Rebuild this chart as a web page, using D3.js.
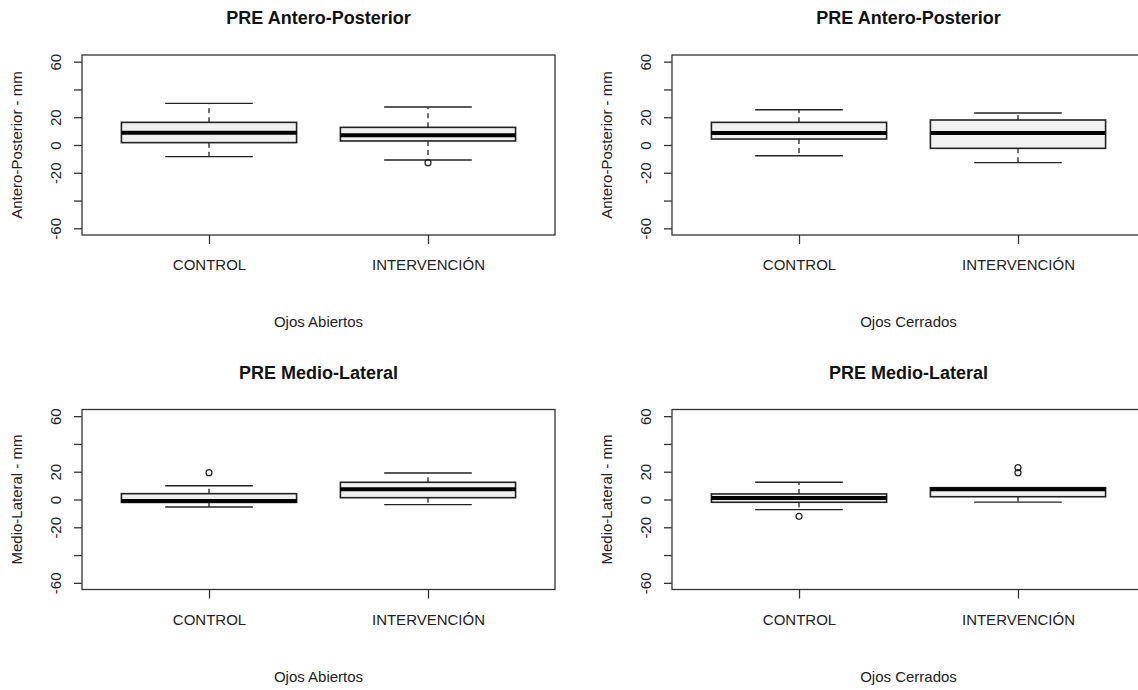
<!DOCTYPE html>
<html lang="es">
<head>
<meta charset="UTF-8" />
<title>PRE boxplots</title>
<style>
  html, body { margin: 0; padding: 0; background: #fff; }
  svg { display: block; font-family: "Liberation Sans", Arial, sans-serif; }
  .frame { fill: none; stroke: #333; stroke-width: 1.3px; }
  .axis path { stroke: #333; stroke-width: 1.3px; }
  .axis line { stroke: #333; stroke-width: 1.3px; }
  .axis text { font-size: 15px; fill: #222; }
  .box { fill: #f0f0f0; stroke: #222; stroke-width: 1.6px; }
  .median { stroke: #000; stroke-width: 4px; }
  .whisker { stroke: #222; stroke-width: 1.3px; stroke-dasharray: 5,4; }
  .cap { stroke: #222; stroke-width: 1.4px; }
  .outlier { fill: none; stroke: #222; stroke-width: 1.2px; }
  .title { font-size: 18px; font-weight: bold; fill: #111; }
  .lab { font-size: 15px; fill: #222; }
</style>
</head>
<body>
<svg width="1138" height="690"></svg>
<script src="https://d3js.org/d3.v7.min.js"></script>
<script>
// groups and axis ticks
const groups = ["CONTROL", "INTERVENCIÓN"];
const yTicks = [-60, -40, -20, 0, 20, 40, 60];
const yTickLabels = [-60, -20, 0, 20, 60];

// five-number summaries per group: [lowWhisker, q1, median, q3, highWhisker]
const apOpenStats = [[-8.4, 1.7, 8.9, 16.3, 30.0], [-10.8, 2.9, 7.0, 12.7, 27.4]];
const apOpenOut = [[], [-12.7]];
const apClosedStats = [[-7.7, 4.3, 8.6, 16.3, 25.4], [-12.7, -2.4, 8.6, 18.0, 23.0]];
const apClosedOut = [[], []];
const mlOpenStats = [[-5.4, -2.1, -1.0, 4.2, 9.9], [-3.7, 1.3, 7.3, 12.4, 19.1]];
const mlOpenOut = [[19.3], []];
const mlClosedStats = [[-7.3, -2.0, 1.1, 4.0, 12.4], [-1.9, 2.0, 7.4, 8.5, 8.5]];
const mlClosedOut = [[-12.1], [22.9, 19.3]];

const panels = [
  { title: "PRE Antero-Posterior", ylab: "Antero-Posterior - mm", xlab: "Ojos Abiertos", stats: apOpenStats, out: apOpenOut, col: 0, row: 0 },
  { title: "PRE Antero-Posterior", ylab: "Antero-Posterior - mm", xlab: "Ojos Cerrados", stats: apClosedStats, out: apClosedOut, col: 1, row: 0 },
  { title: "PRE Medio-Lateral", ylab: "Medio-Lateral - mm", xlab: "Ojos Abiertos", stats: mlOpenStats, out: mlOpenOut, col: 0, row: 1 },
  { title: "PRE Medio-Lateral", ylab: "Medio-Lateral - mm", xlab: "Ojos Cerrados", stats: mlClosedStats, out: mlClosedOut, col: 1, row: 1 }
];

const svg = d3.select("svg");
const plotW = 473, plotH = 180;
const colX = [82, 672], rowY = [55, 409.5];

panels.forEach(p => {
  const g = svg.append("g")
    .attr("transform", `translate(${colX[p.col]},${rowY[p.row]})`);

  // R style: limits padded by 4%
  const x = d3.scaleLinear().domain([0.42, 2.58]).range([0, plotW]);
  const y = d3.scaleLinear().domain([-64.8, 64.8]).range([plotH, 0]);

  g.append("rect").attr("class", "frame")
    .attr("width", plotW).attr("height", plotH);

  const yAxis = g.append("g").attr("class", "axis")
    .call(d3.axisLeft(y).tickValues(yTicks).tickSize(8).tickSizeOuter(0)
      .tickFormat(d => yTickLabels.includes(d) ? String(d) : ""));
  yAxis.select(".domain").remove();
  yAxis.selectAll("text")
    .attr("transform", "rotate(-90)")
    .attr("x", 0).attr("y", -26)
    .attr("dy", "0.35em")
    .attr("text-anchor", "middle");

  const xAxis = g.append("g").attr("class", "axis")
    .attr("transform", `translate(0,${plotH})`)
    .call(d3.axisBottom(x).tickValues([1, 2]).tickSize(9).tickSizeOuter(0)
      .tickFormat((d, i) => groups[i]));
  xAxis.select(".domain").remove();
  xAxis.selectAll("text").attr("y", 30).attr("dy", "0.35em");

  p.stats.forEach((s, i) => {
    const cx = x(i + 1);
    const bw = x(1.4) - x(1), cw = x(1.2) - x(1);
    const [lo, q1, med, q3, hi] = s;
    g.append("line").attr("class", "whisker")
      .attr("x1", cx).attr("x2", cx).attr("y1", y(q3)).attr("y2", y(hi));
    g.append("line").attr("class", "whisker")
      .attr("x1", cx).attr("x2", cx).attr("y1", y(q1)).attr("y2", y(lo));
    g.append("line").attr("class", "cap")
      .attr("x1", cx - cw).attr("x2", cx + cw).attr("y1", y(hi)).attr("y2", y(hi));
    g.append("line").attr("class", "cap")
      .attr("x1", cx - cw).attr("x2", cx + cw).attr("y1", y(lo)).attr("y2", y(lo));
    g.append("rect").attr("class", "box")
      .attr("x", cx - bw).attr("width", 2 * bw)
      .attr("y", y(q3)).attr("height", y(q1) - y(q3));
    g.append("line").attr("class", "median")
      .attr("x1", cx - bw).attr("x2", cx + bw).attr("y1", y(med)).attr("y2", y(med));
    g.selectAll(null).data(p.out[i]).join("circle")
      .attr("class", "outlier")
      .attr("cx", cx).attr("cy", d => y(d)).attr("r", 3);
  });

  g.append("text").attr("class", "title")
    .attr("x", plotW / 2).attr("y", -37).attr("dy", "0.35em")
    .attr("text-anchor", "middle").text(p.title);
  g.append("text").attr("class", "lab")
    .attr("x", x(1.5)).attr("y", plotH + 87).attr("dy", "0.35em")
    .attr("text-anchor", "middle").text(p.xlab);
  g.append("text").attr("class", "lab")
    .attr("transform", `translate(-65,${plotH / 2}) rotate(-90)`)
    .attr("dy", "0.35em")
    .attr("text-anchor", "middle").text(p.ylab);
});
</script>
</body>
</html>
